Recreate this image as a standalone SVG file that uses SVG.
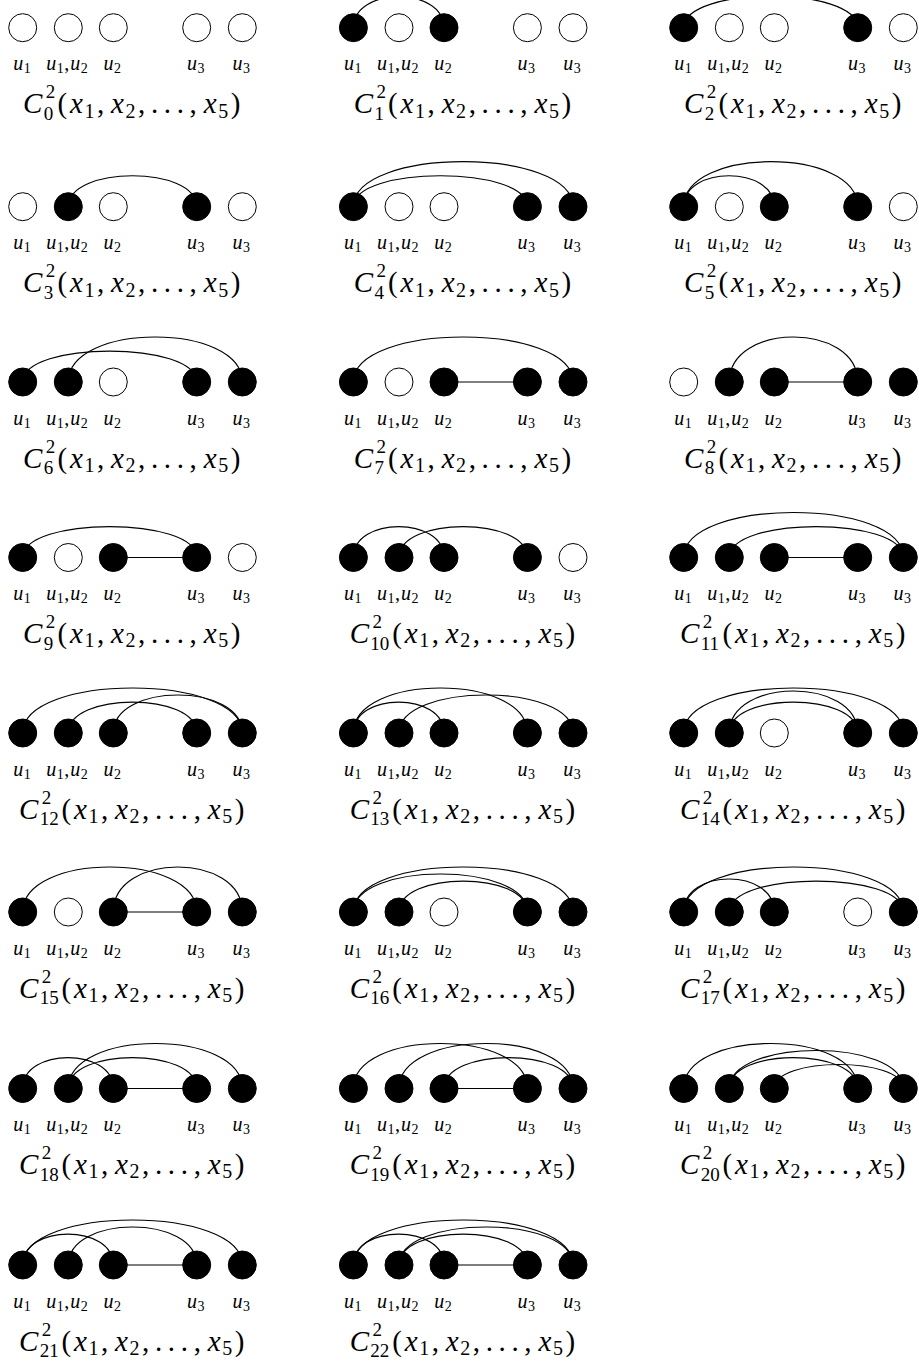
<svg xmlns="http://www.w3.org/2000/svg" width="919" height="1362" viewBox="0 0 919 1362" font-family="Liberation Serif, serif">
<style>
.o{fill:#fff;stroke:#000;stroke-width:1}
.f{fill:#000;stroke:#000;stroke-width:1}
.e{fill:none;stroke:#000;stroke-width:1.2}
text{font-family:"Liberation Serif",serif;fill:#000}
.ul{font-size:20px}
.cl{font-size:29px}
.it{font-style:italic}
.s1{font-size:14px;font-style:normal}
.s2{font-size:19px;font-style:normal}
.s3{font-size:20px;font-style:normal}
</style>
<defs>
<g id="ul">
<text class="ul"><tspan class="it" x="-9.5" y="42.5">u</tspan><tspan class="s1" x="1" y="45.5">1</tspan><tspan class="it" x="23.6" y="42.5">u</tspan><tspan class="s1" x="34" y="45.5">1</tspan><tspan x="41.5" y="42.5">,</tspan><tspan class="it" x="47.5" y="42.5">u</tspan><tspan class="s1" x="58" y="45.5">2</tspan><tspan class="it" x="80.8" y="42.5">u</tspan><tspan class="s1" x="91.3" y="45.5">2</tspan><tspan class="it" x="164.2" y="42.5">u</tspan><tspan class="s1" x="174.7" y="45.5">3</tspan><tspan class="it" x="209.8" y="42.5">u</tspan><tspan class="s1" x="220.3" y="45.5">3</tspan></text>
</g>
<g id="args">
<text class="cl"><tspan x="0" y="0">(</tspan><tspan class="it" x="12.5" y="0">x</tspan><tspan class="s3" x="27" y="4.4">1</tspan><tspan x="39.5" y="0">,</tspan><tspan class="it" x="53.6" y="0">x</tspan><tspan class="s3" x="68" y="4.4">2</tspan><tspan x="80.6" y="0">,</tspan><tspan x="93.5" y="0">.</tspan><tspan x="106.4" y="0">.</tspan><tspan x="119.3" y="0">.</tspan><tspan x="132.2" y="0">,</tspan><tspan class="it" x="146.3" y="0">x</tspan><tspan class="s3" x="160.8" y="4.4">5</tspan><tspan x="173.3" y="0">)</tspan></text>
</g>
</defs>
<rect width="919" height="1362" fill="#fff"/>

<g id="C0" transform="translate(22.7,27.7)">
<g class="connectors"></g>
<g id="C0-n1"><circle class="o" cx="0" cy="0" r="14"/></g>
<g id="C0-n2"><circle class="o" cx="45.6" cy="0" r="14"/></g>
<g id="C0-n3"><circle class="o" cx="90.6" cy="0" r="14"/></g>
<g id="C0-n4"><circle class="o" cx="174" cy="0" r="14"/></g>
<g id="C0-n5"><circle class="o" cx="219.6" cy="0" r="14"/></g>
<use href="#ul"/>
<text class="cl"><tspan class="it" x="0.3" y="85.5">C</tspan><tspan class="s2" x="23.1" y="70.5">2</tspan><tspan class="s2" x="21" y="92">0</tspan></text><use href="#args" x="34.7" y="85.5"/>
</g>

<g id="C1" transform="translate(353.4,27.7)">
<g class="connectors"><path class="e" d="M0 0C0 -41.3 90.6 -41.3 90.6 0"/></g>
<g id="C1-n1"><circle class="f" cx="0" cy="0" r="14"/></g>
<g id="C1-n2"><circle class="o" cx="45.6" cy="0" r="14"/></g>
<g id="C1-n3"><circle class="f" cx="90.6" cy="0" r="14"/></g>
<g id="C1-n4"><circle class="o" cx="174" cy="0" r="14"/></g>
<g id="C1-n5"><circle class="o" cx="219.6" cy="0" r="14"/></g>
<use href="#ul"/>
<text class="cl"><tspan class="it" x="0.3" y="85.5">C</tspan><tspan class="s2" x="23.1" y="70.5">2</tspan><tspan class="s2" x="21" y="92">1</tspan></text><use href="#args" x="34.7" y="85.5"/>
</g>

<g id="C2" transform="translate(683.7,27.7)">
<g class="connectors"><path class="e" d="M0 0C0 -42 174 -42 174 0"/></g>
<g id="C2-n1"><circle class="f" cx="0" cy="0" r="14"/></g>
<g id="C2-n2"><circle class="o" cx="45.6" cy="0" r="14"/></g>
<g id="C2-n3"><circle class="o" cx="90.6" cy="0" r="14"/></g>
<g id="C2-n4"><circle class="f" cx="174" cy="0" r="14"/></g>
<g id="C2-n5"><circle class="o" cx="219.6" cy="0" r="14"/></g>
<use href="#ul"/>
<text class="cl"><tspan class="it" x="0.3" y="85.5">C</tspan><tspan class="s2" x="23.1" y="70.5">2</tspan><tspan class="s2" x="21" y="92">2</tspan></text><use href="#args" x="34.7" y="85.5"/>
</g>

<g id="C3" transform="translate(22.7,206.7)">
<g class="connectors"><path class="e" d="M45.6 0C45.6 -41.3 174 -41.3 174 0"/></g>
<g id="C3-n1"><circle class="o" cx="0" cy="0" r="14"/></g>
<g id="C3-n2"><circle class="f" cx="45.6" cy="0" r="14"/></g>
<g id="C3-n3"><circle class="o" cx="90.6" cy="0" r="14"/></g>
<g id="C3-n4"><circle class="f" cx="174" cy="0" r="14"/></g>
<g id="C3-n5"><circle class="o" cx="219.6" cy="0" r="14"/></g>
<use href="#ul"/>
<text class="cl"><tspan class="it" x="0.3" y="85.5">C</tspan><tspan class="s2" x="23.1" y="70.5">2</tspan><tspan class="s2" x="21" y="92">3</tspan></text><use href="#args" x="34.7" y="85.5"/>
</g>

<g id="C4" transform="translate(353.4,206.7)">
<g class="connectors"><path class="e" d="M0 0C0 -60 219.6 -60 219.6 0"/><path class="e" d="M0 0C0 -41.3 174 -41.3 174 0"/></g>
<g id="C4-n1"><circle class="f" cx="0" cy="0" r="14"/></g>
<g id="C4-n2"><circle class="o" cx="45.6" cy="0" r="14"/></g>
<g id="C4-n3"><circle class="o" cx="90.6" cy="0" r="14"/></g>
<g id="C4-n4"><circle class="f" cx="174" cy="0" r="14"/></g>
<g id="C4-n5"><circle class="f" cx="219.6" cy="0" r="14"/></g>
<use href="#ul"/>
<text class="cl"><tspan class="it" x="0.3" y="85.5">C</tspan><tspan class="s2" x="23.1" y="70.5">2</tspan><tspan class="s2" x="21" y="92">4</tspan></text><use href="#args" x="34.7" y="85.5"/>
</g>

<g id="C5" transform="translate(683.7,206.7)">
<g class="connectors"><path class="e" d="M0 0C0 -60 174 -60 174 0"/><path class="e" d="M0 0C0 -41.3 90.6 -41.3 90.6 0"/></g>
<g id="C5-n1"><circle class="f" cx="0" cy="0" r="14"/></g>
<g id="C5-n2"><circle class="o" cx="45.6" cy="0" r="14"/></g>
<g id="C5-n3"><circle class="f" cx="90.6" cy="0" r="14"/></g>
<g id="C5-n4"><circle class="f" cx="174" cy="0" r="14"/></g>
<g id="C5-n5"><circle class="o" cx="219.6" cy="0" r="14"/></g>
<use href="#ul"/>
<text class="cl"><tspan class="it" x="0.3" y="85.5">C</tspan><tspan class="s2" x="23.1" y="70.5">2</tspan><tspan class="s2" x="21" y="92">5</tspan></text><use href="#args" x="34.7" y="85.5"/>
</g>

<g id="C6" transform="translate(22.7,382)">
<g class="connectors"><path class="e" d="M0 0C0 -41.3 174 -41.3 174 0"/><path class="e" d="M45.6 0C45.6 -60 219.6 -60 219.6 0"/></g>
<g id="C6-n1"><circle class="f" cx="0" cy="0" r="14"/></g>
<g id="C6-n2"><circle class="f" cx="45.6" cy="0" r="14"/></g>
<g id="C6-n3"><circle class="o" cx="90.6" cy="0" r="14"/></g>
<g id="C6-n4"><circle class="f" cx="174" cy="0" r="14"/></g>
<g id="C6-n5"><circle class="f" cx="219.6" cy="0" r="14"/></g>
<use href="#ul"/>
<text class="cl"><tspan class="it" x="0.3" y="85.5">C</tspan><tspan class="s2" x="23.1" y="70.5">2</tspan><tspan class="s2" x="21" y="92">6</tspan></text><use href="#args" x="34.7" y="85.5"/>
</g>

<g id="C7" transform="translate(353.4,382)">
<g class="connectors"><path class="e" d="M0 0C0 -60 219.6 -60 219.6 0"/><path class="e" d="M90.6 0H174"/></g>
<g id="C7-n1"><circle class="f" cx="0" cy="0" r="14"/></g>
<g id="C7-n2"><circle class="o" cx="45.6" cy="0" r="14"/></g>
<g id="C7-n3"><circle class="f" cx="90.6" cy="0" r="14"/></g>
<g id="C7-n4"><circle class="f" cx="174" cy="0" r="14"/></g>
<g id="C7-n5"><circle class="f" cx="219.6" cy="0" r="14"/></g>
<use href="#ul"/>
<text class="cl"><tspan class="it" x="0.3" y="85.5">C</tspan><tspan class="s2" x="23.1" y="70.5">2</tspan><tspan class="s2" x="21" y="92">7</tspan></text><use href="#args" x="34.7" y="85.5"/>
</g>

<g id="C8" transform="translate(683.7,382)">
<g class="connectors"><path class="e" d="M45.6 0C45.6 -60 174 -60 174 0"/><path class="e" d="M90.6 0H174"/></g>
<g id="C8-n1"><circle class="o" cx="0" cy="0" r="14"/></g>
<g id="C8-n2"><circle class="f" cx="45.6" cy="0" r="14"/></g>
<g id="C8-n3"><circle class="f" cx="90.6" cy="0" r="14"/></g>
<g id="C8-n4"><circle class="f" cx="174" cy="0" r="14"/></g>
<g id="C8-n5"><circle class="f" cx="219.6" cy="0" r="14"/></g>
<use href="#ul"/>
<text class="cl"><tspan class="it" x="0.3" y="85.5">C</tspan><tspan class="s2" x="23.1" y="70.5">2</tspan><tspan class="s2" x="21" y="92">8</tspan></text><use href="#args" x="34.7" y="85.5"/>
</g>

<g id="C9" transform="translate(22.7,557.5)">
<g class="connectors"><path class="e" d="M0 0C0 -41.3 174 -41.3 174 0"/><path class="e" d="M90.6 0H174"/></g>
<g id="C9-n1"><circle class="f" cx="0" cy="0" r="14"/></g>
<g id="C9-n2"><circle class="o" cx="45.6" cy="0" r="14"/></g>
<g id="C9-n3"><circle class="f" cx="90.6" cy="0" r="14"/></g>
<g id="C9-n4"><circle class="f" cx="174" cy="0" r="14"/></g>
<g id="C9-n5"><circle class="o" cx="219.6" cy="0" r="14"/></g>
<use href="#ul"/>
<text class="cl"><tspan class="it" x="0.3" y="85.5">C</tspan><tspan class="s2" x="23.1" y="70.5">2</tspan><tspan class="s2" x="21" y="92">9</tspan></text><use href="#args" x="34.7" y="85.5"/>
</g>

<g id="C10" transform="translate(353.4,557.5)">
<g class="connectors"><path class="e" d="M0 0C0 -41.3 90.6 -41.3 90.6 0"/><path class="e" d="M45.6 0C45.6 -41.3 174 -41.3 174 0"/></g>
<g id="C10-n1"><circle class="f" cx="0" cy="0" r="14"/></g>
<g id="C10-n2"><circle class="f" cx="45.6" cy="0" r="14"/></g>
<g id="C10-n3"><circle class="f" cx="90.6" cy="0" r="14"/></g>
<g id="C10-n4"><circle class="f" cx="174" cy="0" r="14"/></g>
<g id="C10-n5"><circle class="o" cx="219.6" cy="0" r="14"/></g>
<use href="#ul"/>
<text class="cl"><tspan class="it" x="-3.75" y="85.5">C</tspan><tspan class="s2" x="19.05" y="70.5">2</tspan><tspan class="s2" x="16.95" y="92">10</tspan></text><use href="#args" x="38.75" y="85.5"/>
</g>

<g id="C11" transform="translate(683.7,557.5)">
<g class="connectors"><path class="e" d="M0 0C0 -60 219.6 -60 219.6 0"/><path class="e" d="M45.6 0C45.6 -41.3 219.6 -41.3 219.6 0"/><path class="e" d="M90.6 0H174"/></g>
<g id="C11-n1"><circle class="f" cx="0" cy="0" r="14"/></g>
<g id="C11-n2"><circle class="f" cx="45.6" cy="0" r="14"/></g>
<g id="C11-n3"><circle class="f" cx="90.6" cy="0" r="14"/></g>
<g id="C11-n4"><circle class="f" cx="174" cy="0" r="14"/></g>
<g id="C11-n5"><circle class="f" cx="219.6" cy="0" r="14"/></g>
<use href="#ul"/>
<text class="cl"><tspan class="it" x="-3.75" y="85.5">C</tspan><tspan class="s2" x="19.05" y="70.5">2</tspan><tspan class="s2" x="16.95" y="92">11</tspan></text><use href="#args" x="38.75" y="85.5"/>
</g>

<g id="C12" transform="translate(22.7,733)">
<g class="connectors"><path class="e" d="M0 0C0 -60 219.6 -60 219.6 0"/><path class="e" d="M90.6 0C90.6 -50.7 219.6 -50.7 219.6 0"/><path class="e" d="M45.6 0C45.6 -41.3 174 -41.3 174 0"/></g>
<g id="C12-n1"><circle class="f" cx="0" cy="0" r="14"/></g>
<g id="C12-n2"><circle class="f" cx="45.6" cy="0" r="14"/></g>
<g id="C12-n3"><circle class="f" cx="90.6" cy="0" r="14"/></g>
<g id="C12-n4"><circle class="f" cx="174" cy="0" r="14"/></g>
<g id="C12-n5"><circle class="f" cx="219.6" cy="0" r="14"/></g>
<use href="#ul"/>
<text class="cl"><tspan class="it" x="-3.75" y="85.5">C</tspan><tspan class="s2" x="19.05" y="70.5">2</tspan><tspan class="s2" x="16.95" y="92">12</tspan></text><use href="#args" x="38.75" y="85.5"/>
</g>

<g id="C13" transform="translate(353.4,733)">
<g class="connectors"><path class="e" d="M0 0C0 -60 174 -60 174 0"/><path class="e" d="M45.6 0C45.6 -50.7 219.6 -50.7 219.6 0"/><path class="e" d="M0 0C0 -41.3 90.6 -41.3 90.6 0"/></g>
<g id="C13-n1"><circle class="f" cx="0" cy="0" r="14"/></g>
<g id="C13-n2"><circle class="f" cx="45.6" cy="0" r="14"/></g>
<g id="C13-n3"><circle class="f" cx="90.6" cy="0" r="14"/></g>
<g id="C13-n4"><circle class="f" cx="174" cy="0" r="14"/></g>
<g id="C13-n5"><circle class="f" cx="219.6" cy="0" r="14"/></g>
<use href="#ul"/>
<text class="cl"><tspan class="it" x="-3.75" y="85.5">C</tspan><tspan class="s2" x="19.05" y="70.5">2</tspan><tspan class="s2" x="16.95" y="92">13</tspan></text><use href="#args" x="38.75" y="85.5"/>
</g>

<g id="C14" transform="translate(683.7,733)">
<g class="connectors"><path class="e" d="M0 0C0 -60 219.6 -60 219.6 0"/><path class="e" d="M45.6 0C45.6 -56 174 -56 174 0"/><path class="e" d="M45.6 0C45.6 -41.3 174 -41.3 174 0"/></g>
<g id="C14-n1"><circle class="f" cx="0" cy="0" r="14"/></g>
<g id="C14-n2"><circle class="f" cx="45.6" cy="0" r="14"/></g>
<g id="C14-n3"><circle class="o" cx="90.6" cy="0" r="14"/></g>
<g id="C14-n4"><circle class="f" cx="174" cy="0" r="14"/></g>
<g id="C14-n5"><circle class="f" cx="219.6" cy="0" r="14"/></g>
<use href="#ul"/>
<text class="cl"><tspan class="it" x="-3.75" y="85.5">C</tspan><tspan class="s2" x="19.05" y="70.5">2</tspan><tspan class="s2" x="16.95" y="92">14</tspan></text><use href="#args" x="38.75" y="85.5"/>
</g>

<g id="C15" transform="translate(22.7,912)">
<g class="connectors"><path class="e" d="M0 0C0 -60 174 -60 174 0"/><path class="e" d="M90.6 0C90.6 -60 219.6 -60 219.6 0"/><path class="e" d="M90.6 0H174"/></g>
<g id="C15-n1"><circle class="f" cx="0" cy="0" r="14"/></g>
<g id="C15-n2"><circle class="o" cx="45.6" cy="0" r="14"/></g>
<g id="C15-n3"><circle class="f" cx="90.6" cy="0" r="14"/></g>
<g id="C15-n4"><circle class="f" cx="174" cy="0" r="14"/></g>
<g id="C15-n5"><circle class="f" cx="219.6" cy="0" r="14"/></g>
<use href="#ul"/>
<text class="cl"><tspan class="it" x="-3.75" y="85.5">C</tspan><tspan class="s2" x="19.05" y="70.5">2</tspan><tspan class="s2" x="16.95" y="92">15</tspan></text><use href="#args" x="38.75" y="85.5"/>
</g>

<g id="C16" transform="translate(353.4,912)">
<g class="connectors"><path class="e" d="M0 0C0 -60 219.6 -60 219.6 0"/><path class="e" d="M0 0C0 -50.7 174 -50.7 174 0"/><path class="e" d="M45.6 0C45.6 -41.3 174 -41.3 174 0"/></g>
<g id="C16-n1"><circle class="f" cx="0" cy="0" r="14"/></g>
<g id="C16-n2"><circle class="f" cx="45.6" cy="0" r="14"/></g>
<g id="C16-n3"><circle class="o" cx="90.6" cy="0" r="14"/></g>
<g id="C16-n4"><circle class="f" cx="174" cy="0" r="14"/></g>
<g id="C16-n5"><circle class="f" cx="219.6" cy="0" r="14"/></g>
<use href="#ul"/>
<text class="cl"><tspan class="it" x="-3.75" y="85.5">C</tspan><tspan class="s2" x="19.05" y="70.5">2</tspan><tspan class="s2" x="16.95" y="92">16</tspan></text><use href="#args" x="38.75" y="85.5"/>
</g>

<g id="C17" transform="translate(683.7,912)">
<g class="connectors"><path class="e" d="M0 0C0 -60 219.6 -60 219.6 0"/><path class="e" d="M0 0C0 -44 90.6 -44 90.6 0"/><path class="e" d="M45.6 0C45.6 -41.3 219.6 -41.3 219.6 0"/></g>
<g id="C17-n1"><circle class="f" cx="0" cy="0" r="14"/></g>
<g id="C17-n2"><circle class="f" cx="45.6" cy="0" r="14"/></g>
<g id="C17-n3"><circle class="f" cx="90.6" cy="0" r="14"/></g>
<g id="C17-n4"><circle class="o" cx="174" cy="0" r="14"/></g>
<g id="C17-n5"><circle class="f" cx="219.6" cy="0" r="14"/></g>
<use href="#ul"/>
<text class="cl"><tspan class="it" x="-3.75" y="85.5">C</tspan><tspan class="s2" x="19.05" y="70.5">2</tspan><tspan class="s2" x="16.95" y="92">17</tspan></text><use href="#args" x="38.75" y="85.5"/>
</g>

<g id="C18" transform="translate(22.7,1088.5)">
<g class="connectors"><path class="e" d="M0 0C0 -41.3 90.6 -41.3 90.6 0"/><path class="e" d="M45.6 0C45.6 -60 219.6 -60 219.6 0"/><path class="e" d="M45.6 0C45.6 -41.3 174 -41.3 174 0"/><path class="e" d="M90.6 0H174"/></g>
<g id="C18-n1"><circle class="f" cx="0" cy="0" r="14"/></g>
<g id="C18-n2"><circle class="f" cx="45.6" cy="0" r="14"/></g>
<g id="C18-n3"><circle class="f" cx="90.6" cy="0" r="14"/></g>
<g id="C18-n4"><circle class="f" cx="174" cy="0" r="14"/></g>
<g id="C18-n5"><circle class="f" cx="219.6" cy="0" r="14"/></g>
<use href="#ul"/>
<text class="cl"><tspan class="it" x="-3.75" y="85.5">C</tspan><tspan class="s2" x="19.05" y="70.5">2</tspan><tspan class="s2" x="16.95" y="92">18</tspan></text><use href="#args" x="38.75" y="85.5"/>
</g>

<g id="C19" transform="translate(353.4,1088.5)">
<g class="connectors"><path class="e" d="M0 0C0 -60 174 -60 174 0"/><path class="e" d="M45.6 0C45.6 -60 219.6 -60 219.6 0"/><path class="e" d="M90.6 0C90.6 -41.3 219.6 -41.3 219.6 0"/><path class="e" d="M90.6 0H174"/></g>
<g id="C19-n1"><circle class="f" cx="0" cy="0" r="14"/></g>
<g id="C19-n2"><circle class="f" cx="45.6" cy="0" r="14"/></g>
<g id="C19-n3"><circle class="f" cx="90.6" cy="0" r="14"/></g>
<g id="C19-n4"><circle class="f" cx="174" cy="0" r="14"/></g>
<g id="C19-n5"><circle class="f" cx="219.6" cy="0" r="14"/></g>
<use href="#ul"/>
<text class="cl"><tspan class="it" x="-3.75" y="85.5">C</tspan><tspan class="s2" x="19.05" y="70.5">2</tspan><tspan class="s2" x="16.95" y="92">19</tspan></text><use href="#args" x="38.75" y="85.5"/>
</g>

<g id="C20" transform="translate(683.7,1088.5)">
<g class="connectors"><path class="e" d="M0 0C0 -60 174 -60 174 0"/><path class="e" d="M45.6 0C45.6 -50.7 219.6 -50.7 219.6 0"/><path class="e" d="M45.6 0C45.6 -41.3 174 -41.3 174 0"/><path class="e" d="M90.6 0C90.6 -32 219.6 -32 219.6 0"/></g>
<g id="C20-n1"><circle class="f" cx="0" cy="0" r="14"/></g>
<g id="C20-n2"><circle class="f" cx="45.6" cy="0" r="14"/></g>
<g id="C20-n3"><circle class="f" cx="90.6" cy="0" r="14"/></g>
<g id="C20-n4"><circle class="f" cx="174" cy="0" r="14"/></g>
<g id="C20-n5"><circle class="f" cx="219.6" cy="0" r="14"/></g>
<use href="#ul"/>
<text class="cl"><tspan class="it" x="-3.75" y="85.5">C</tspan><tspan class="s2" x="19.05" y="70.5">2</tspan><tspan class="s2" x="16.95" y="92">20</tspan></text><use href="#args" x="38.75" y="85.5"/>
</g>

<g id="C21" transform="translate(22.7,1265)">
<g class="connectors"><path class="e" d="M0 0C0 -60 219.6 -60 219.6 0"/><path class="e" d="M45.6 0C45.6 -50.7 174 -50.7 174 0"/><path class="e" d="M0 0C0 -41.3 90.6 -41.3 90.6 0"/><path class="e" d="M90.6 0H174"/></g>
<g id="C21-n1"><circle class="f" cx="0" cy="0" r="14"/></g>
<g id="C21-n2"><circle class="f" cx="45.6" cy="0" r="14"/></g>
<g id="C21-n3"><circle class="f" cx="90.6" cy="0" r="14"/></g>
<g id="C21-n4"><circle class="f" cx="174" cy="0" r="14"/></g>
<g id="C21-n5"><circle class="f" cx="219.6" cy="0" r="14"/></g>
<use href="#ul"/>
<text class="cl"><tspan class="it" x="-3.75" y="85.5">C</tspan><tspan class="s2" x="19.05" y="70.5">2</tspan><tspan class="s2" x="16.95" y="92">21</tspan></text><use href="#args" x="38.75" y="85.5"/>
</g>

<g id="C22" transform="translate(353.4,1265)">
<g class="connectors"><path class="e" d="M0 0C0 -60 219.6 -60 219.6 0"/><path class="e" d="M45.6 0C45.6 -50.7 219.6 -50.7 219.6 0"/><path class="e" d="M0 0C0 -41.3 90.6 -41.3 90.6 0"/><path class="e" d="M45.6 0C45.6 -41.3 174 -41.3 174 0"/><path class="e" d="M90.6 0H174"/></g>
<g id="C22-n1"><circle class="f" cx="0" cy="0" r="14"/></g>
<g id="C22-n2"><circle class="f" cx="45.6" cy="0" r="14"/></g>
<g id="C22-n3"><circle class="f" cx="90.6" cy="0" r="14"/></g>
<g id="C22-n4"><circle class="f" cx="174" cy="0" r="14"/></g>
<g id="C22-n5"><circle class="f" cx="219.6" cy="0" r="14"/></g>
<use href="#ul"/>
<text class="cl"><tspan class="it" x="-3.75" y="85.5">C</tspan><tspan class="s2" x="19.05" y="70.5">2</tspan><tspan class="s2" x="16.95" y="92">22</tspan></text><use href="#args" x="38.75" y="85.5"/>
</g>
</svg>
